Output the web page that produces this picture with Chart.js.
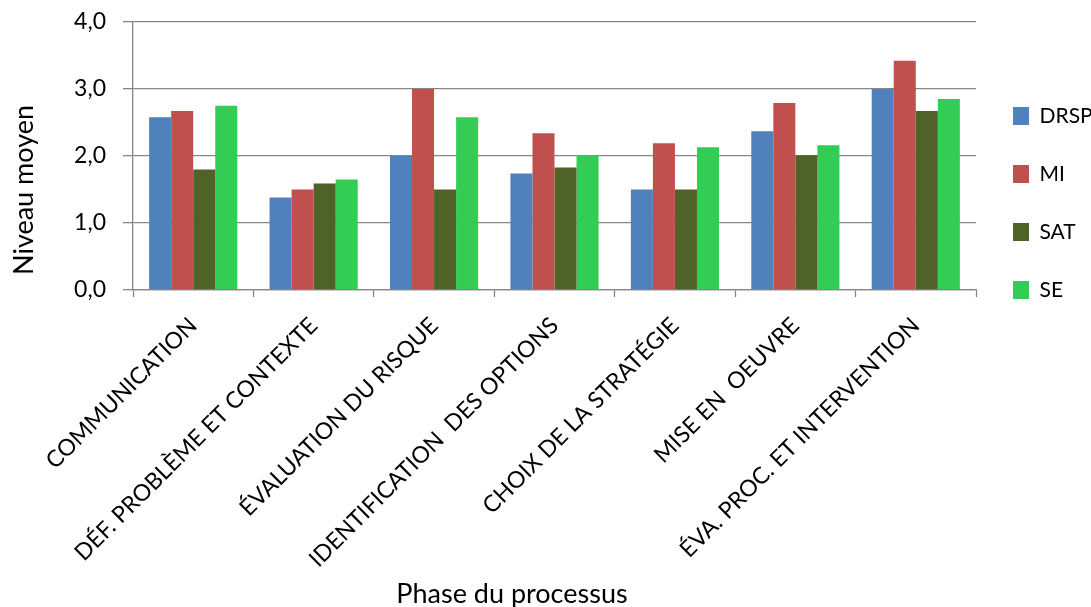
<!DOCTYPE html>
<html>
<head>
<meta charset="utf-8">
<script src="https://cdn.jsdelivr.net/npm/chart.js@4/dist/chart.umd.min.js"></script>
<style>
  html, body { margin: 0; padding: 0; background: #ffffff; }
  #wrap { width: 1091px; height: 607px; position: relative; }
</style>
</head>
<body>
<div id="wrap"><canvas id="chart"></canvas></div>
<script>
// Phases of the process (x categories)
const phases = [
  'COMMUNICATION',
  'DÉF. PROBLÈME ET CONTEXTE',
  'ÉVALUATION DU RISQUE',
  'IDENTIFICATION  DES OPTIONS',
  'CHOIX DE LA STRATÉGIE',
  'MISE EN  OEUVRE',
  'ÉVA. PROC. ET INTERVENTION'
];

// Mean level per group
const drsp = [2.58, 1.38, 2.00, 1.74, 1.50, 2.37, 3.00];
const mi   = [2.67, 1.50, 3.00, 2.34, 2.19, 2.79, 3.42];
const sat  = [1.80, 1.59, 1.50, 1.83, 1.50, 2.01, 2.67];
const se   = [2.75, 1.65, 2.58, 2.01, 2.13, 2.16, 2.85];

const seriesNames = ['DRSP', 'MI', 'SAT', 'SE'];
const yTickLabels = ['0,0', '1,0', '2,0', '3,0', '4,0'];
const yTitle = 'Niveau moyen';
const xTitle = 'Phase du processus';

const colors = ['#4F81BD', '#C0504D', '#4F6228', '#33CC55'];
const gridColor = '#868686';
const FONT = 'Lato';

// Axis titles drawn on the canvas at their own spots
const axisTitles = {
  id: 'axisTitles',
  afterDraw(chart) {
    const ctx = chart.ctx;
    ctx.save();
    ctx.fillStyle = '#000000';
    ctx.textAlign = 'center';
    ctx.textBaseline = 'middle';
    ctx.font = '27px ' + FONT;
    ctx.save();
    ctx.translate(24, 190);
    ctx.rotate(-Math.PI / 2);
    ctx.fillText(yTitle, 0, 0);
    ctx.restore();
    ctx.fillText(xTitle, 512, 594);
    ctx.restore();
  }
};

function build() {
  const series = [drsp, mi, sat, se];
  const datasets = seriesNames.map((name, i) => ({
    label: name,
    data: series[i],
    backgroundColor: colors[i],
    borderWidth: 0,
    categoryPercentage: 0.732,
    barPercentage: 1.0
  }));

  new Chart(document.getElementById('chart'), {
    type: 'bar',
    data: { labels: phases, datasets },
    plugins: [axisTitles],
    options: {
      responsive: true,
      maintainAspectRatio: false,
      animation: false,
      events: [],
      layout: { padding: { top: 22, left: 0, right: 0, bottom: 0 } },
      plugins: {
        tooltip: { enabled: false },
        legend: {
          position: 'right',
          align: 'start',
          maxWidth: 115,
          title: { display: true, text: '', font: { size: 10, lineHeight: 1 }, padding: { top: 36.5, bottom: 0 } },
          labels: {
            boxWidth: 16,
            boxHeight: 18,
            padding: 37,
            color: '#000000',
            font: { family: FONT, size: 21 }
          }
        }
      },
      scales: {
        x: {
          afterFit(scale) { scale.height = 607 - 290; },
          grid: {
            display: true,
            drawOnChartArea: false,
            drawTicks: true,
            tickLength: 7,
            tickWidth: 1.3,
            tickColor: gridColor,
            offset: true
          },
          border: { display: true, color: gridColor, width: 1.3 },
          ticks: {
            autoSkip: false,
            minRotation: 45,
            maxRotation: 45,
            padding: 15,
            color: '#000000',
            font: { family: FONT, size: 23 }
          }
        },
        y: {
          min: 0,
          max: 4,
          afterFit(scale) {
            scale.width = 133;
            scale.paddingTop = 0;
          },
          grid: {
            color: gridColor,
            lineWidth: 1.3,
            drawTicks: true,
            tickLength: 10,
            tickColor: gridColor
          },
          border: { display: true, color: gridColor, width: 1.3 },
          ticks: {
            stepSize: 1,
            padding: 17,
            color: '#000000',
            font: { family: FONT, size: 23 },
            callback: (v) => yTickLabels[Math.round(v)]
          }
        }
      }
    }
  });
}

if (document.fonts && document.fonts.load) {
  Promise.all([document.fonts.load('22px ' + FONT), document.fonts.load('27px ' + FONT)])
    .then(build, build);
} else {
  build();
}
</script>
</body>
</html>
